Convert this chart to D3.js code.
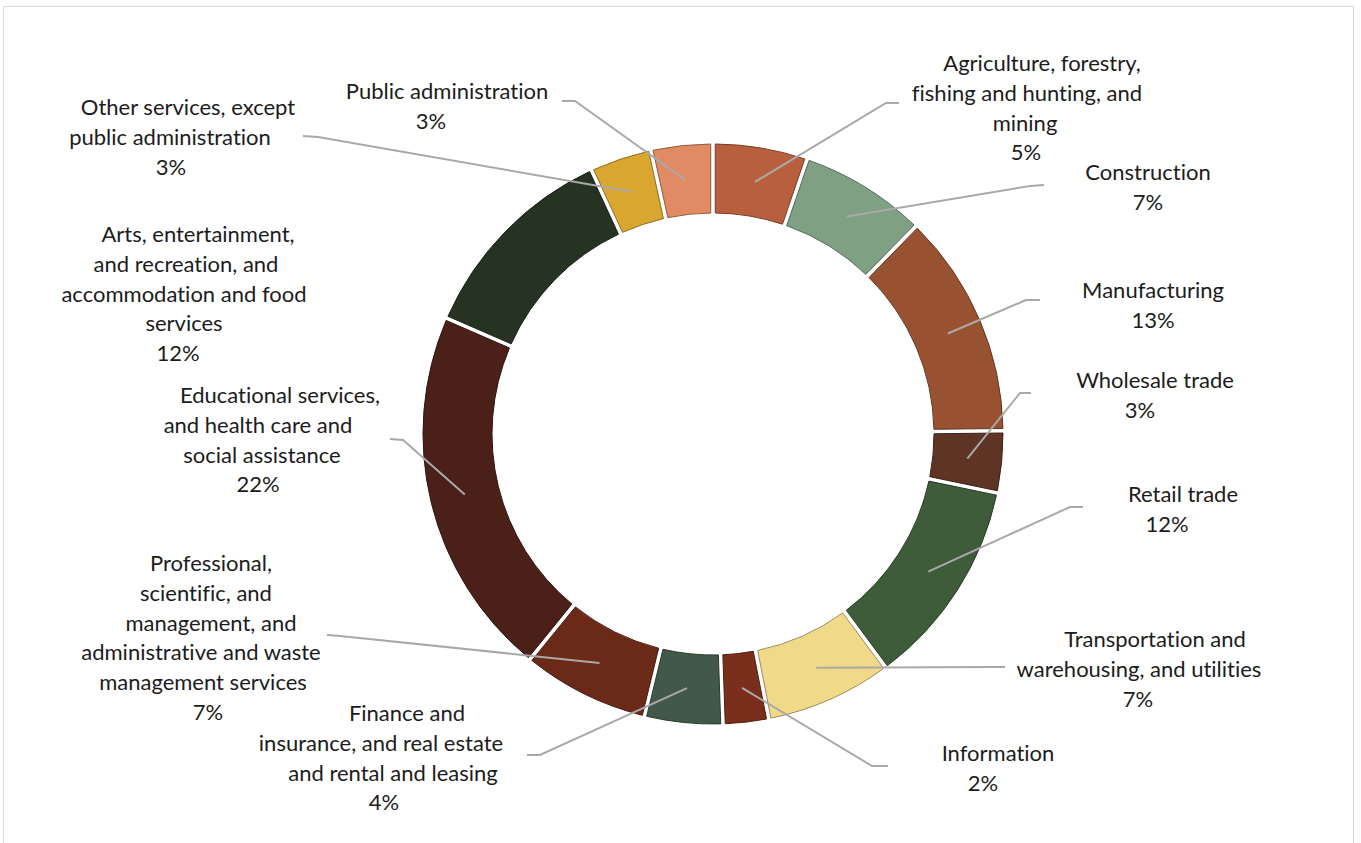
<!DOCTYPE html>
<html>
<head>
<meta charset="utf-8">
<script src="https://cdn.jsdelivr.net/npm/d3@7/dist/d3.min.js"></script>
<style>
  html, body { margin: 0; padding: 0; background: #ffffff; }
  svg { display: block; }
  text { font-family: Lato, "Open Sans", sans-serif; fill: #1c1c1c; font-variant-ligatures: none; }
</style>
</head>
<body>
<svg id="chart" width="1361" height="843"></svg>
<script>
// Employment share by industry (percent)
const labelLines = [
  ["Agriculture, forestry,", "fishing and hunting, and", "mining"],
  ["Construction"],
  ["Manufacturing"],
  ["Wholesale trade"],
  ["Retail trade"],
  ["Transportation and", "warehousing, and utilities"],
  ["Information"],
  ["Finance and", "insurance, and real estate", "and rental and leasing"],
  ["Professional,", "scientific, and", "management, and", "administrative and waste", "management services"],
  ["Educational services,", "and health care and", "social assistance"],
  ["Arts, entertainment,", "and recreation, and", "accommodation and food", "services"],
  ["Other services, except", "public administration"],
  ["Public administration"]
];
const categories = labelLines.map(l => l.join(" "));
const values = [5, 7, 13, 3, 12, 7, 2, 4, 7, 22, 12, 3, 3];
const colors = ["#b8603e", "#80a084", "#985232", "#5e3424", "#3e5b3a", "#f1d98a", "#7a2e1c",
                "#42594a", "#6b2a18", "#4a2018", "#263322", "#d9a630", "#e08b63"];

// Label placement: per-line centre x, first line centre y, and the leader line path
// (elbow point, end point); null leader = no connector drawn.
const layout = [
  { xs: [1042, 1027, 1025, 1026], y: 63,  elbow: [886, 103], end: [899, 103] },
  { xs: [1148, 1148],             y: 172, elbow: [1030, 186], end: [1044, 185] },
  { xs: [1153, 1153],             y: 290, elbow: [1026, 300], end: [1040, 300] },
  { xs: [1155, 1140],             y: 380, elbow: [1020, 393], end: [1031, 393] },
  { xs: [1183, 1167],             y: 494, elbow: [1070, 507], end: [1083, 507] },
  { xs: [1155, 1139, 1138],       y: 639, elbow: [993, 667],  end: [1005, 667] },
  { xs: [998, 983],               y: 753, elbow: [872, 766],  end: [888, 766] },
  { xs: [407, 381, 393, 384],     y: 713, elbow: [540, 755],  end: [527, 755] },
  { xs: [211, 206, 211, 201, 203, 208], y: 563, elbow: [340, 636], end: [327, 635] },
  { xs: [280, 258, 262, 258],     y: 395, elbow: [403, 440],  end: [390, 439] },
  { xs: [198, 186, 184, 184, 178], y: 234, elbow: null, end: null },
  { xs: [188, 170, 171],          y: 107, elbow: [318, 137],  end: [303, 136] },
  { xs: [447, 431],               y: 91,  elbow: [575, 101],  end: [562, 101] }
];

const svg = d3.select("#chart");
const W = 1361, H = 843;
const cx = 713, cy = 434;
const rOuter = 290, rInner = 221;
const lineH = 29.8;

// faint frame around the chart area
svg.append("rect")
  .attr("x", 3.5).attr("y", 6.5)
  .attr("width", 1350).attr("height", H)
  .attr("fill", "none").attr("stroke", "#d9d9d9").attr("stroke-width", 1);

const data = categories.map((c, i) => ({ name: c, value: values[i], color: colors[i], i }));

const pie = d3.pie().value(d => d.value).sort(null)
  .padAngle(0.045);

const arc = d3.arc()
  .innerRadius(rInner).outerRadius(rOuter)
  .padRadius(100);

const arcs = pie(data);

const g = svg.append("g").attr("transform", `translate(${cx},${cy})`);

g.selectAll("path.slice")
  .data(arcs)
  .join("path")
  .attr("class", "slice")
  .attr("d", arc)
  .attr("fill", d => d.data.color)
  .attr("stroke", d => d3.color(d.data.color).darker(1.2))
  .attr("stroke-width", 1);

// leader lines from each slice centroid to its label
const leaders = svg.append("g")
  .attr("fill", "none")
  .attr("stroke", "#a9a9a9")
  .attr("stroke-width", 2);

arcs.forEach((a, i) => {
  const L = layout[i];
  if (!L.elbow) return;
  const c = arc.centroid(a);
  const pts = [[cx + c[0], cy + c[1]], L.elbow, L.end];
  leaders.append("path").attr("d", d3.line()(pts));
});

// category labels with percentage underneath
const fmt = d => d3.format(".0%")(d / d3.sum(values));
const labels = svg.append("g").attr("font-size", 22).attr("text-anchor", "middle");

arcs.forEach((a, i) => {
  const L = layout[i];
  const lines = labelLines[i].concat([fmt(values[i])]);
  lines.forEach((t, k) => {
    labels.append("text")
      .attr("x", L.xs[k])
      .attr("y", L.y + k * lineH)
      .attr("dy", "0.36em")
      .text(t);
  });
});
</script>
</body>
</html>
